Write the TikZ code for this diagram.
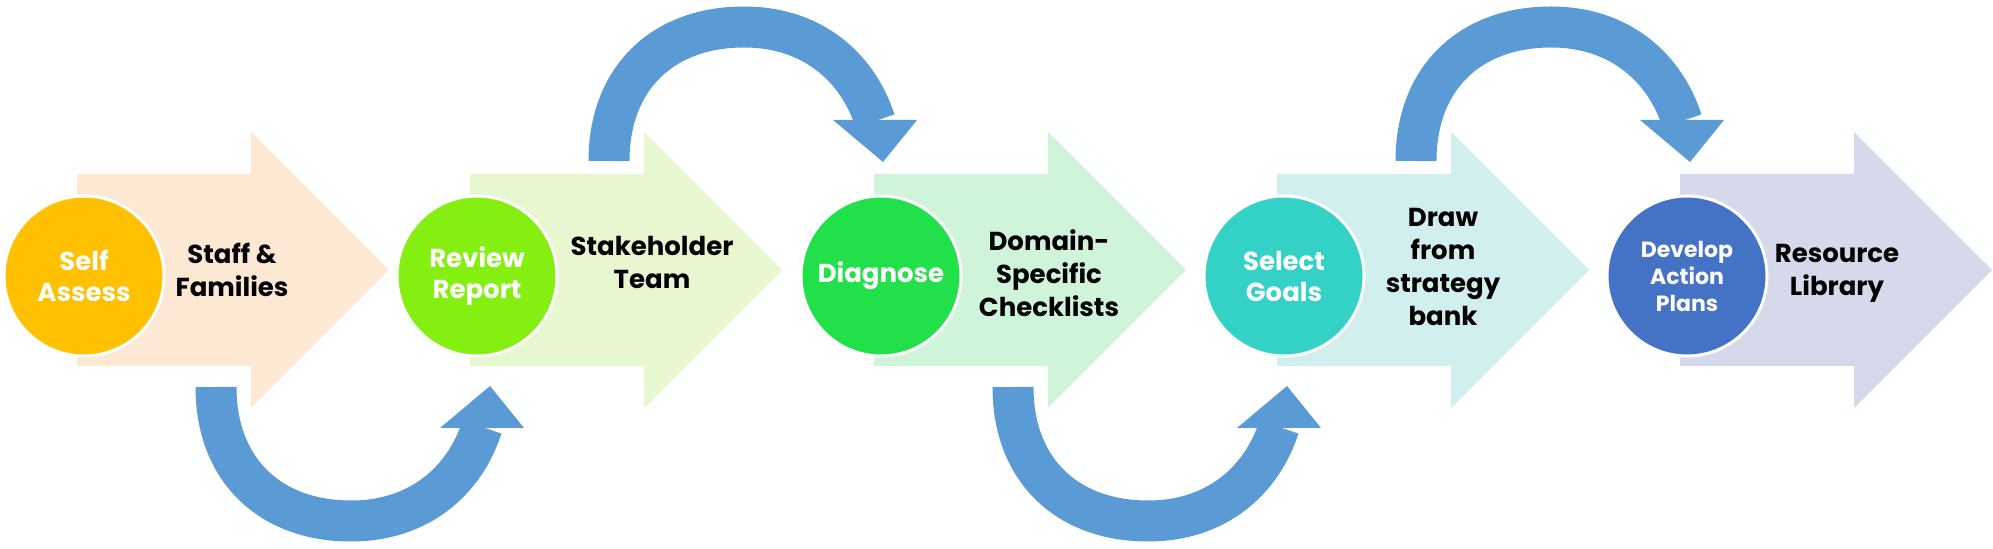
\documentclass[tikz,border=0pt]{standalone}
\usepackage{fontspec}
\setmainfont{Poppins}
\begin{document}
\begin{tikzpicture}[x=0.5pt,y=-0.5pt,
  chev/.style={draw=none},
  circ/.style={circle,draw=white,line width=1.5pt,minimum size=80pt,inner sep=0pt,text=white,font=\bfseries\fontsize{13}{15.5}\selectfont,align=center},
  lbl/.style={font=\bfseries\fontsize{13}{16.5}\selectfont,align=center,text=black},
  blue/.style={draw=cblue,line width=20.5pt},
  head/.style={fill=cblue,draw=none}]
\definecolor{cblue}{HTML}{5B9BD5}
\definecolor{a1}{HTML}{FDE9D3}\definecolor{a2}{HTML}{E7F8D0}\definecolor{a3}{HTML}{D0F4DA}
\definecolor{a4}{HTML}{D0EFEE}\definecolor{a5}{HTML}{D6D9EB}
\definecolor{c1}{HTML}{FFC000}\definecolor{c2}{HTML}{86EF12}\definecolor{c3}{HTML}{22E04A}
\definecolor{c4}{HTML}{33D1C6}\definecolor{c5}{HTML}{4472C4}
\useasboundingbox (0,0) rectangle (1993,549);
\foreach \x/\c in {77/a1,470/a2,874/a3,1277/a4,1680/a5}{
  \fill[\c] (\x,174) -- (\x+174,174) -- (\x+174,132) -- (\x+312,270) -- (\x+174,408) -- (\x+174,366) -- (\x,366) -- cycle;
}
\node[circ,fill=c1] (s1) at (84,276) {Self\\Assess};
\node[circ,fill=c2] (s2) at (477,276) {Review\\Report};
\node[circ,fill=c3] (s3) at (881,276) {Diagnose};
\node[circ,fill=c4] (s4) at (1284,276) {Select\\Goals};
\node[circ,fill=c5,font=\bfseries\fontsize{11}{13.5}\selectfont] (s5) at (1687,276) {Develop\\Action\\Plans};
\node[lbl] (l1) at (232,270) {Staff \&\\Families};
\node[lbl] (l2) at (652,262) {Stakeholder\\Team};
\node[lbl] (l3) at (1049,273) {Domain-\\Specific\\Checklists};
\node[lbl] (l4) at (1443,267) {Draw\\from\\strategy\\bank};
\node[lbl] (l5) at (1837,273) {Resource\\Library};
% curved arrows
\foreach \x/\top in {77/0,470/1,874/0,1277/1}{
  \ifnum\top=0
    \begin{scope}[shift={(\x,0)}]
  \else
    \begin{scope}[shift={(\x,548)},yscale=-1]
  \fi
    \draw[blue] (139,387) .. controls (139,470) and (193,521) .. (274,521) .. controls (343,521) and (388,480) .. (405,427);
    \fill[cblue] (363,428) -- (447,428) -- (413,386) -- cycle;
  \end{scope}
}
\end{tikzpicture}
\end{document}
